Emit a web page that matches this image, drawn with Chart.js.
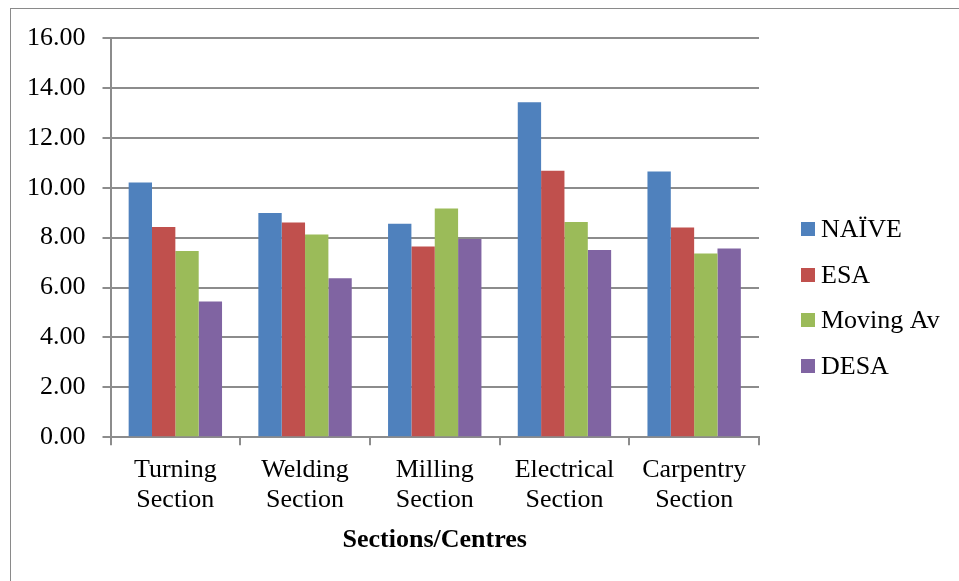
<!DOCTYPE html>
<html>
<head>
<meta charset="utf-8">
<title>Sections/Centres</title>
<script src="https://cdn.jsdelivr.net/npm/chart.js@4"></script>
<style>
    html, body { margin: 0; padding: 0; background: #fff; overflow: hidden; }
    #frame {
        position: absolute; left: 10px; top: 8px;
        width: 1100px; height: 700px;
        border: 1.5px solid #8a8a8a;
    }
    #chartBox { position: absolute; left: 0; top: 0; width: 959px; height: 581px; }
</style>
</head>
<body>
<div id="frame"></div>
<div id="chartBox"><canvas id="errorChart" width="959" height="581"></canvas></div>
<script>
// Data
const sections = [['Turning', 'Section'], ['Welding', 'Section'], ['Milling', 'Section'], ['Electrical', 'Section'], ['Carpentry', 'Section']];
const naive = [10.21, 8.99, 8.56, 13.43, 10.65];
const esa = [8.43, 8.61, 7.65, 10.68, 8.41];
const movingAv = [7.47, 8.13, 9.17, 8.63, 7.36];
const desa = [5.44, 6.37, 7.95, 7.51, 7.57];
const yTicks = [0, 2, 4, 6, 8, 10, 12, 14, 16];

const serif = 'Liberation Serif, Times New Roman, serif';
const gridGrey = '#8c8c8c';

// Legend on the right: small square + label, Excel style
const sideLegend = {
    id: 'sideLegend',
    afterDraw(chart) {
        const c = chart.ctx;
        const x = chart.chartArea.right + 42;
        const startY = 229;
        const step = 45.7;
        c.save();
        c.font = '26px ' + serif;
        c.textBaseline = 'middle';
        c.textAlign = 'left';
        chart.data.datasets.forEach((ds, i) => {
            const y = startY + i * step;
            c.fillStyle = ds.backgroundColor;
            c.fillRect(x, Math.round(y - 7), 14, 14);
            c.fillStyle = '#000';
            c.fillText(ds.label, x + 20, y + 1);
        });
        c.restore();
    }
};

const ctx = document.getElementById('errorChart').getContext('2d');
const chart = new Chart(ctx, {
    type: 'bar',
    data: {
        labels: sections,
        datasets: [
            { label: 'NAÏVE', data: naive, backgroundColor: '#4F81BD' },
            { label: 'ESA', data: esa, backgroundColor: '#C0504D' },
            { label: 'Moving Av', data: movingAv, backgroundColor: '#9BBB59' },
            { label: 'DESA', data: desa, backgroundColor: '#8064A2' }
        ]
    },
    plugins: [sideLegend],
    options: {
        responsive: false,
        animation: false,
        layout: { padding: { left: 10, top: 38, right: 200, bottom: 23 } },
        datasets: { bar: { categoryPercentage: 0.72, barPercentage: 1.0 } },
        plugins: {
            legend: { display: false },
            tooltip: { enabled: false }
        },
        scales: {
            x: {
                grid: { display: true, drawOnChartArea: false, tickLength: 8, color: gridGrey, lineWidth: 2 },
                border: { color: gridGrey, width: 2 },
                ticks: { font: { family: serif, size: 26, lineHeight: 1.15 }, color: '#000', padding: 10, maxRotation: 0 },
                title: {
                    display: true,
                    text: 'Sections/Centres',
                    font: { family: serif, size: 26, weight: 'bold', lineHeight: 1.15 },
                    color: '#000',
                    padding: { top: 0, bottom: 3 }
                }
            },
            y: {
                min: 0,
                max: 16,
                afterBuildTicks: (scale) => { scale.ticks = yTicks.map(v => ({ value: v })); },
                grid: { color: gridGrey, lineWidth: 2, tickLength: 8 },
                border: { color: gridGrey, width: 2 },
                ticks: {
                    font: { family: serif, size: 26 },
                    color: '#000',
                    padding: 17,
                    callback: (v) => Number(v).toFixed(2)
                }
            }
        }
    }
});
</script>
</body>
</html>
